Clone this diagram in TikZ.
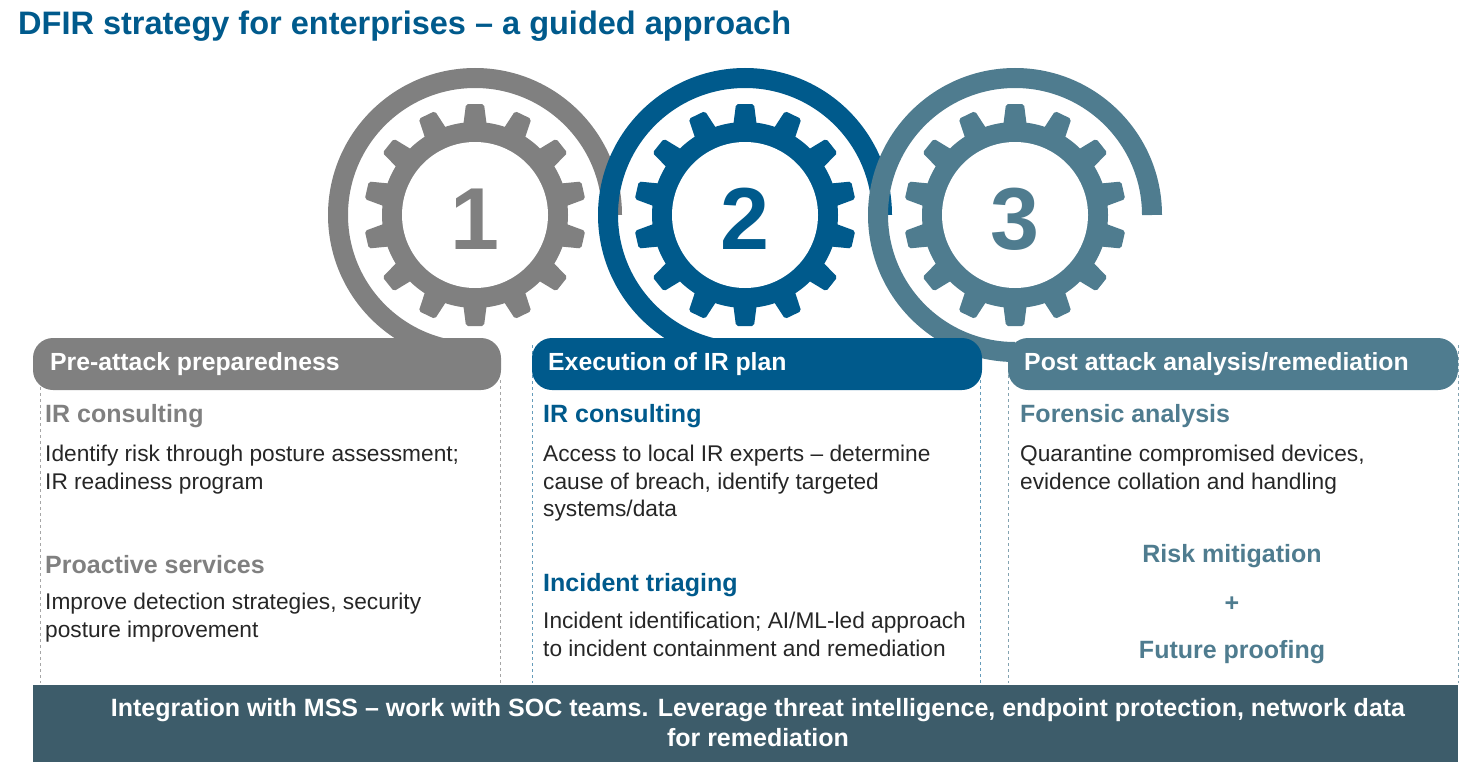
\documentclass[tikz,border=0pt]{standalone}
\usepackage{fontspec}
\setmainfont{Liberation Sans}
\definecolor{cgray}{HTML}{808080}
\definecolor{cblue}{HTML}{005A8C}
\definecolor{cteal}{HTML}{4F7C8F}
\definecolor{cbar}{HTML}{3D5C6A}
\definecolor{cbody}{HTML}{262626}
\begin{document}
\begin{tikzpicture}[x=1pt,y=-1pt,
  hdr/.style={anchor=west,text=white,font=\fontsize{24.8}{28}\selectfont\bfseries,inner sep=0},
  sub/.style={anchor=west,font=\fontsize{25}{28}\selectfont\bfseries,inner sep=0},
  body/.style={anchor=north west,text=cbody,font=\fontsize{22.7}{27.5}\selectfont,align=left,inner sep=0},
  col/.style={draw=cgray!70,dashed,line width=0.6pt},
  ring/.style={line width=20pt}]
\useasboundingbox (0,0) rectangle (1459,768);
\node[anchor=west,text=cblue,font=\fontsize{32.5}{34}\selectfont\bfseries,inner sep=0] (title) at (18,26) {DFIR strategy for enterprises -- a guided approach};
% dashed columns
\draw[col] (40,345) -- (40,683) (500,380) -- (500,683);
\draw[col,draw=cblue!60] (532,345) -- (532,683) (980,380) -- (980,683);
\draw[col,draw=cteal!70] (1008,345) -- (1008,683) (1458,345) -- (1458,683);
% rings
\foreach \cx/\c in {475/cgray,745/cblue,1015/cteal}{
  \draw[ring,\c] (\cx,215) ++(0:137) arc[start angle=0,end angle=-270,radius=137];
}
% gears
\foreach \cx/\c/\n in {475/cgray/1,745/cblue/2,1015/cteal/3}{
  \begin{scope}[shift={(\cx,215)}]
  \fill[\c] (0,0) circle (93);
  \foreach \a in {0,25.714,...,359}{
    \fill[\c,rotate=\a,rounded corners=2pt] (-13,-80) -- (-9,-111) -- (9,-111) -- (13,-80) -- cycle;
  }
  \fill[white] (0,0) circle (73);
  \node[text=\c,font=\fontsize{88}{88}\selectfont\bfseries] (g\n) at (0,4) {\n};
  \end{scope}
}
% headers
\fill[cgray,rounded corners=20] (33,338) rectangle (501,390);
\fill[cblue,rounded corners=20] (532,338) rectangle (982,390);
\fill[cteal,rounded corners=20] (1008,338) rectangle (1458,390);
\node[hdr] (h1) at (50,364) {Pre-attack preparedness};
\node[hdr] (h2) at (548,364) {Execution of IR plan};
\node[hdr] (h3) at (1024,364) {Post attack analysis/remediation};
% column 1
\node[sub,text=cgray] (s11) at (45,416) {IR consulting};
\node[body] (b11) at (45,445) {Identify risk through posture assessment;\\IR readiness program};
\node[sub,text=cgray] (s12) at (45,565) {Proactive services};
\node[body] (b12) at (45,593) {Improve detection strategies, security\\posture improvement};
% column 2
\node[sub,text=cblue] (s21) at (543,416) {IR consulting};
\node[body] (b21) at (543,445) {Access to local IR experts -- determine\\cause of breach, identify targeted\\systems/data};
\node[sub,text=cblue] (s22) at (543,585) {Incident triaging};
\node[body] (b22) at (543,612) {Incident identification; AI/ML-led approach\\to incident containment and remediation};
% column 3
\node[sub,text=cteal] (s31) at (1020,416) {Forensic analysis};
\node[body] (b31) at (1020,445) {Quarantine compromised devices,\\evidence collation and handling};
\node[sub,text=cteal,anchor=center] (r1) at (1232,556) {Risk mitigation};
\node[sub,text=cteal,anchor=center] (r2) at (1232,604) {+};
\node[sub,text=cteal,anchor=center] (r3) at (1232,652) {Future proofing};
% bottom bar
\fill[cbar] (33,685) rectangle (1458,762);
\node[text=white,font=\fontsize{25}{30}\selectfont\bfseries,align=center] (bar) at (758,723) {Integration with MSS -- work with SOC teams. Leverage threat intelligence, endpoint protection, network data\\for remediation};
\end{tikzpicture}
\end{document}
